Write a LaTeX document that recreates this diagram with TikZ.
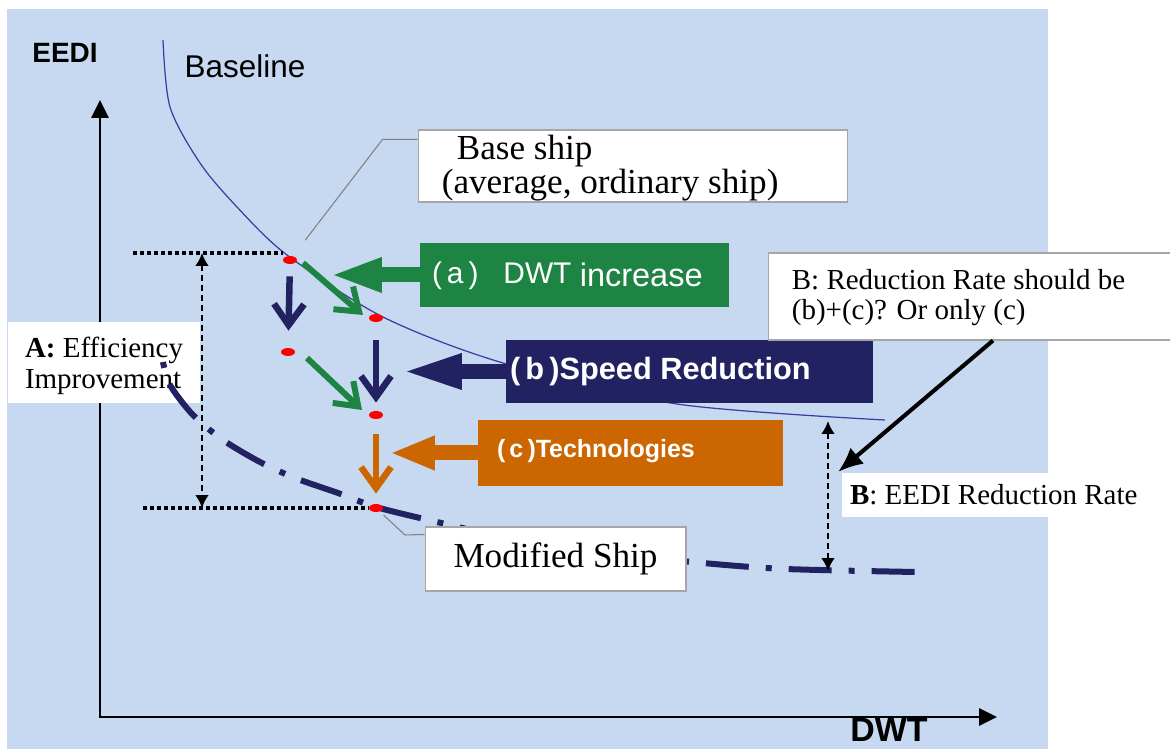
\documentclass[tikz,border=0pt]{standalone}
\usepackage{fontspec}
\setmainfont{Liberation Serif}
\setsansfont{Liberation Sans}
\usepackage{tikz}
\usetikzlibrary{positioning,arrows.meta,shapes.geometric,calc}
\definecolor{bgblue}{RGB}{198,217,240}
\definecolor{navyb}{RGB}{34,34,98}
\definecolor{greenb}{RGB}{30,132,68}
\definecolor{orangeb}{RGB}{204,102,0}
\definecolor{curveb}{RGB}{60,60,160}
\newcommand{\fsz}[2]{\fontsize{#1}{#2}\selectfont}

\begin{document}
\begin{tikzpicture}[x=0.02cm,y=-0.02cm,
    dot/.style={ellipse,fill=red,draw=none,minimum width=0.28cm,minimum height=0.16cm,inner sep=0pt},
    smallarr/.style={line width=0.13cm,-{Straight Barb[length=0.42cm,width=0.6cm]}},
    blockarr/.style={line width=0.3cm,-{Triangle[length=#1,width=0.63cm]}},
    labelbox/.style={fill=white,draw=gray!70,line width=0.6pt,inner sep=0pt},
    plainbox/.style={fill=white,draw=none,inner sep=0pt},
    colbox/.style={inner sep=0pt},
    boxtext/.style={anchor=west,align=left,inner sep=0pt},
    callout/.style={gray,line width=0.6pt},
    guide/.style={line width=2.3pt,dash pattern=on 2.3pt off 1.7pt},
    dimarr/.style={line width=1.6pt,dash pattern=on 3.4pt off 2.3pt,{Latex[length=0.26cm,width=0.28cm]}-{Latex[length=0.26cm,width=0.28cm]}},
    axis/.style={line width=1.7pt,-{Triangle[length=0.36cm,width=0.34cm]}}]
    \useasboundingbox (0,0) rectangle (1170,749);
    \fill[white] (0,0) rectangle (1170,749);
    \fill[bgblue] (7,9) rectangle (1048,749);

    % baseline curve
    \draw[curveb,line width=0.7pt] plot[smooth] coordinates {(163,40) (170,107) (200,163) (237,207) (287,255) (383,317) (503,363) (677,404) (885,420)};
    \node[font=\sffamily\fsz{17.9}{20},anchor=base] (baselbl) at (245,78) {Baseline};

    % axes
    \coordinate (O) at (100,717);
    \coordinate (ytop) at (100,100);
    \coordinate (xend) at (997,717);
    \draw[axis] (O) -- (ytop);
    \draw[axis] ([xshift=-0.85pt]O) -- (xend);
    \node[font=\sffamily\bfseries\fsz{15.9}{18},anchor=base] (eedi) at (65,63) {EEDI};
    \node[font=\sffamily\bfseries\fsz{19.3}{22},anchor=base,inner sep=0pt] (dwt) at (889,741) {DWT};

    % A: efficiency improvement
    \node[plainbox,minimum width=3.84cm,minimum height=1.62cm] (abox) at (104,362.5) {};
    \node[boxtext,font=\fsz{16.5}{17.6}] (atext) at ([xshift=0.34cm,yshift=-0.06cm]abox.west) {\textbf{A:} Efficiency\\Improvement};

    % improved curve
    \draw[navyb,line width=0.12cm,dash pattern=on 0.12cm off 0.34cm on 0.86cm off 0.34cm] plot[smooth] coordinates {(163,362) (170,385) (193,415) (223,440) (260,462) (295,478) (338,493) (376,507) (437,522) (500,536) (600,552) (703,563) (786,569) (916,572)};

    % ship points
    \node[dot] (p0) at (290,260) {};
    \node[dot] (p1) at (376,318) {};
    \node[dot] (p2) at (288,352) {};
    \node[dot] (p3) at (376,415) {};
    \node[dot] (p4) at (376,508) {};

    % A levels
    \coordinate (atop) at (133,253);
    \coordinate (abot) at (143,508);
    \coordinate (ax) at (202,0);
    \draw[guide] (atop) -- (atop -| p0.west);
    \draw[guide] (abot) -- (abot -| p4.west);
    \draw[dimarr] (ax |- atop) -- (ax |- abot);

    % step arrows
    \draw[smallarr,navyb,shorten <=0.24cm,shorten >=0.34cm] (p0) -- (p2);
    \draw[smallarr,navyb,shorten <=0.36cm,shorten >=0.16cm] (p1) -- (p3);
    \draw[smallarr,greenb,line width=0.12cm] ([shift={(13,3)}]p0.center) -- ([shift={(-13,-3)}]p1.center);
    \draw[smallarr,greenb,line width=0.12cm] ([shift={(19,6)}]p2.center) -- ([shift={(-14,-5)}]p3.center);
    \draw[smallarr,orangeb,shorten <=0.3cm,shorten >=0.2cm] (p3) -- (p4);

    % base ship
    \node[labelbox,minimum width=8.6cm,minimum height=1.44cm] (basebox) at (633,166) {};
    \node[boxtext,font=\fsz{20}{15.3}] (basetext) at ([xshift=0.48cm,yshift=-0.04cm]basebox.west) {\hspace*{0.3cm}Base ship\\(average, ordinary ship)};
    \draw[callout,shorten >=0.4cm] ([yshift=-0.2cm]basebox.north west) -- ++(-35,0) -- (p0);

    % modified ship
    \node[labelbox,minimum width=5.22cm,minimum height=1.28cm,font=\fsz{20}{22}] (modbox) at (555.5,559) {Modified Ship};
    \draw[callout,shorten <=0.1cm] (p4) -- ++(29,27) -- ([yshift=-0.16cm]modbox.north west);

    % labelled block arrows
    \node[colbox,fill=greenb,minimum width=6.18cm,minimum height=1.28cm] (boxa) at (574.5,275) {};
    \node[boxtext,text=white,font=\sffamily] (texta) at ([xshift=0.24cm,yshift=-0.02cm]boxa.west) {\fsz{17}{18}(\,a\,)\hspace{0.5cm}DWT \raisebox{-0.06cm}{\fsz{18.5}{18}increase}};
    \coordinate (tipa) at (330,275);
    \draw[blockarr=1.04cm,greenb] (boxa.west) -- (tipa);

    \node[colbox,fill=navyb,minimum width=7.34cm,minimum height=1.26cm] (boxb) at (689.5,371.5) {};
    \node[boxtext,text=white,font=\sffamily\bfseries\fsz{17.5}{18}] (textb) at ([xshift=0.08cm]boxb.west) {(\,b\,)Speed Reduction};
    \coordinate (tipb) at (400,371.5);
    \draw[blockarr=1.24cm,navyb] (boxb.west) -- (tipb);

    \node[colbox,fill=orangeb,minimum width=6.1cm,minimum height=1.32cm] (boxc) at (630.5,453) {};
    \node[boxtext,text=white,font=\sffamily\bfseries\fsz{14.2}{16}] (textc) at ([xshift=0.38cm,yshift=0.04cm]boxc.west) {(\,c\,)Technologies};
    \coordinate (tipc) at (390,453);
    \draw[blockarr=0.9cm,orangeb] (boxc.west) -- (tipc);

    % B: reduction rate
    \coordinate (bt) at (828,421);
    \coordinate (bb) at (828,571);
    \draw[dimarr] (bt) -- (bb);
    \node[plainbox,minimum width=6.16cm,minimum height=0.88cm] (bratebox) at (996,495) {};
    \node[boxtext,font=\fsz{16.5}{18}] (bratetext) at ([xshift=0.16cm]bratebox.west) {\textbf{B}: EEDI Reduction Rate};
    \node[labelbox,minimum width=8.14cm,minimum height=1.74cm] (bbox) at (971.5,296.5) {};
    \node[boxtext,font=\fsz{16.5}{17}] (btext) at ([xshift=0.48cm,yshift=-0.03cm]bbox.west) {B: Reduction Rate should be\\(b)+(c)? Or only (c)};
    \coordinate (breach) at (838,472);
    \draw[line width=2.3pt,-{Latex[length=0.5cm,width=0.42cm]}] ([xshift=0.43cm]bbox.south) -- (breach);
\end{tikzpicture}
\end{document}
